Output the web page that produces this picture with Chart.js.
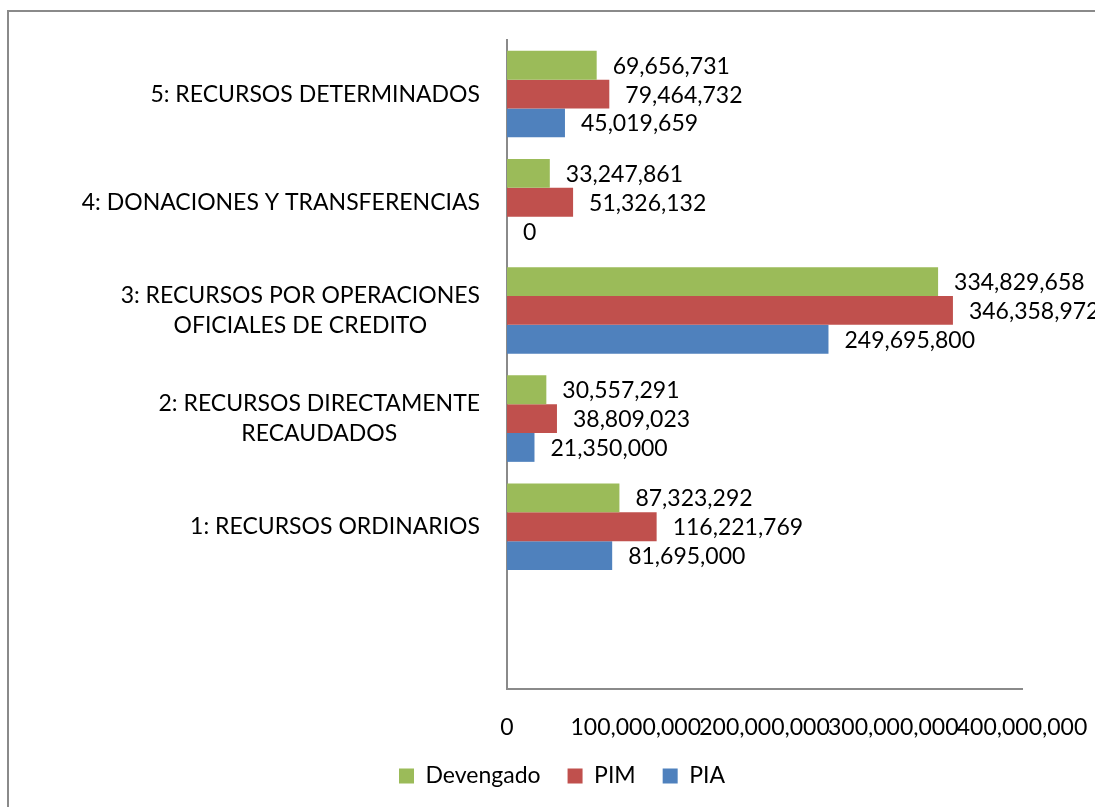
<!DOCTYPE html>
<html>
<head>
<meta charset="utf-8">
<script src="https://cdn.jsdelivr.net/npm/chart.js@4.4.1/dist/chart.umd.min.js"></script>
<style>
    html, body { margin: 0; padding: 0; background: #fff; }
    #wrap { position: relative; width: 1095px; height: 807px; overflow: hidden; }
</style>
</head>
<body>
<div id="wrap"><canvas id="chart" width="1095" height="807"></canvas></div>
<script>
// Category labels (one entry per line); the last slot is left empty
const categories = [
    ['5: RECURSOS DETERMINADOS'],
    ['4: DONACIONES Y TRANSFERENCIAS'],
    ['3: RECURSOS POR OPERACIONES', 'OFICIALES DE CREDITO'],
    ['2: RECURSOS DIRECTAMENTE', 'RECAUDADOS'],
    ['1: RECURSOS ORDINARIOS'],
    ['']
];
const seriesNames = ['Devengado', 'PIM', 'PIA'];
const devengado = [69656731, 33247861, 334829658, 30557291, 87323292, null];
const pim = [79464732, 51326132, 346358972, 38809023, 116221769, null];
const pia = [45019659, 0, 249695800, 21350000, 81695000, null];
const xTicks = [0, 100000000, 200000000, 300000000, 400000000];

const FONT_FAMILY = 'Lato';
const FONT_SIZE = 23;
const FONT = FONT_SIZE + 'px ' + FONT_FAMILY;
const fmt = v => v.toLocaleString('en-US');

// outer frame of the chart object
const frame = {
    id: 'frame',
    beforeDraw(chart) {
        const ctx = chart.ctx;
        ctx.save();
        ctx.fillStyle = '#fff';
        ctx.fillRect(0, 0, chart.width, chart.height);
        ctx.strokeStyle = '#8a8a8a';
        ctx.lineWidth = 2;
        ctx.strokeRect(8, 11, 2000, 2000);
        ctx.restore();
    }
};

// category names: right-aligned block, lines centred within it
const categoryLabels = {
    id: 'categoryLabels',
    afterDraw(chart) {
        const { ctx, scales: { y }, chartArea } = chart;
        ctx.save();
        ctx.font = FONT;
        ctx.fillStyle = '#000';
        ctx.textAlign = 'center';
        ctx.textBaseline = 'middle';
        categories.forEach((lines, i) => {
            if (!lines[0]) return;
            const w = Math.max(...lines.map(l => ctx.measureText(l).width));
            const cx = chartArea.left - 27 - w / 2;
            const cy = y.getPixelForValue(i);
            lines.forEach((l, j) => {
                ctx.fillText(l, cx, cy + (j - (lines.length - 1) / 2) * 30);
            });
        });
        ctx.restore();
    }
};

// value printed after the end of each bar
const valueLabels = {
    id: 'valueLabels',
    afterDatasetsDraw(chart) {
        const ctx = chart.ctx;
        ctx.save();
        ctx.font = FONT;
        ctx.fillStyle = '#000';
        ctx.textAlign = 'left';
        ctx.textBaseline = 'middle';
        chart.data.datasets.forEach((ds, di) => {
            chart.getDatasetMeta(di).data.forEach((bar, i) => {
                const v = ds.data[i];
                if (v === null || v === undefined) return;
                ctx.fillText(fmt(v), bar.x + 16, bar.y + 1);
            });
        });
        ctx.restore();
    }
};

function draw() {
    Chart.defaults.font.family = FONT_FAMILY;
    Chart.defaults.font.size = FONT_SIZE;
    Chart.defaults.color = '#000';

    new Chart(document.getElementById('chart'), {
        type: 'bar',
        data: {
            labels: categories.map(c => c.join(' ')),
            datasets: [
                { label: seriesNames[0], data: devengado, backgroundColor: '#9BBB59' },
                { label: seriesNames[1], data: pim, backgroundColor: '#C0504D' },
                { label: seriesNames[2], data: pia, backgroundColor: '#4F81BD' }
            ]
        },
        options: {
            indexAxis: 'y',
            responsive: false,
            animation: false,
            devicePixelRatio: 1,
            categoryPercentage: 0.8,
            barPercentage: 1.0,
            layout: { padding: { left: 102, right: 73, top: 40, bottom: 9.5 } },
            scales: {
                x: {
                    min: 0,
                    max: 400000000,
                    afterBuildTicks: s => { s.ticks = xTicks.map(v => ({ value: v })); },
                    afterFit: s => {
                        s.height = 48.5;
                        // the last tick label may run past the plot edge
                        s.paddingRight = 0;
                        s.paddingLeft = 0;
                    },
                    grid: { display: false, drawTicks: false },
                    border: { display: true, color: '#8a8a8a', width: 2 },
                    ticks: {
                        padding: 25,
                        maxRotation: 0,
                        autoSkip: false,
                        callback: v => fmt(v)
                    }
                },
                y: {
                    afterFit: s => { s.width = 405; },
                    grid: { display: false, drawTicks: false },
                    border: { display: true, color: '#8a8a8a', width: 2 },
                    ticks: { display: false }
                }
            },
            plugins: {
                legend: {
                    position: 'bottom',
                    labels: {
                        boxWidth: 15,
                        boxHeight: 15,
                        padding: 27,
                        font: { size: FONT_SIZE, family: FONT_FAMILY }
                    }
                },
                tooltip: { enabled: false }
            }
        },
        plugins: [frame, categoryLabels, valueLabels]
    });
}

document.fonts.load(FONT).then(draw, draw);
</script>
</body>
</html>
